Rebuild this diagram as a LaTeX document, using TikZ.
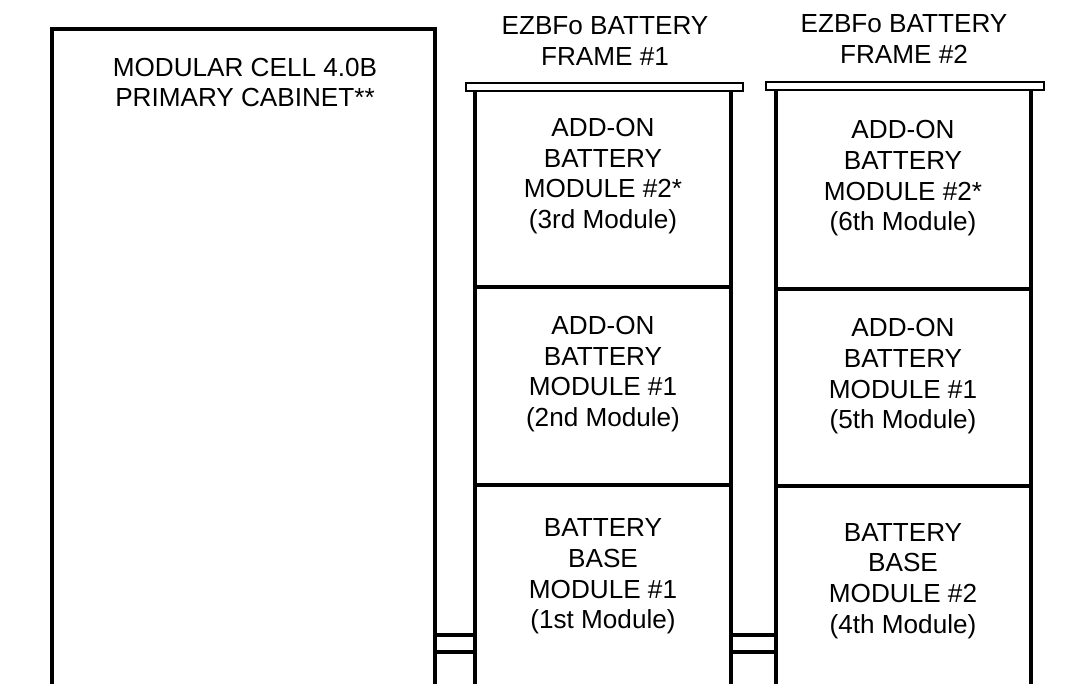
\documentclass[tikz,border=0pt]{standalone}
\usepackage{fontspec}
\setmainfont{Liberation Sans}
\usetikzlibrary{positioning}

\begin{document}
\begin{tikzpicture}[
          x=0.75pt, y=-0.75pt,
          font=\fontsize{19.6}{23}\selectfont,
          wall/.style={line width=2.4pt},
          capbar/.style={line width=2pt, fill=white},
          txt/.style={inner sep=0pt, align=center}
        ]
          \useasboundingbox (0,0) rectangle (1091,684);

          % primary cabinet
          \coordinate (cabBL) at (52,684);
          \coordinate (cabBR) at (435,684);
          \draw[wall] (cabBL) |- (244,29) -| (cabBR);
          \node[txt] (cab) at (245,82.5) {MODULAR CELL 4.0B\\PRIMARY CABINET**};

          % battery frame 1
          \node[txt] (fA) at (605,41) {EZBFo BATTERY\\FRAME \#1};
          \draw[capbar] (466,83) rectangle (743,91);
          \coordinate (aTL) at (475,91);
          \coordinate (aTR) at (731,91);
          \coordinate (aBL) at (475,684);
          \coordinate (aBR) at (731,684);
          \draw[wall] (aTL) -- (aBL);
          \draw[wall] (aTR) -- (aBR);
          \draw[wall] (475,287) -- (731,287);
          \draw[wall] (475,485) -- (731,485);
          \node[txt] (a3) at (603,176) {ADD-ON\\BATTERY\\MODULE \#2*\\(3rd Module)};
          \node[txt] (a2) at (603,374) {ADD-ON\\BATTERY\\MODULE \#1\\(2nd Module)};
          \node[txt] (a1) at (603,576.5) {BATTERY\\BASE\\MODULE \#1\\(1st Module)};

          % battery frame 2
          \node[txt] (fB) at (904,39) {EZBFo BATTERY\\FRAME \#2};
          \draw[capbar] (766,82) rectangle (1044,90);
          \coordinate (bTL) at (776,90);
          \coordinate (bTR) at (1031,90);
          \coordinate (bBL) at (776,684);
          \coordinate (bBR) at (1031,684);
          \draw[wall] (bTL) -- (bBL);
          \draw[wall] (bTR) -- (bBR);
          \draw[wall] (776,289) -- (1031,289);
          \draw[wall] (776,486) -- (1031,486);
          \node[txt] (b3) at (903,178.5) {ADD-ON\\BATTERY\\MODULE \#2*\\(6th Module)};
          \node[txt] (b2) at (903,376.5) {ADD-ON\\BATTERY\\MODULE \#1\\(5th Module)};
          \node[txt] (b1) at (903,581) {BATTERY\\BASE\\MODULE \#2\\(4th Module)};

          % links between cabinets
          \draw[wall] (435,635) -- (475,635);
          \draw[wall] (435,652) -- (475,652);
          \draw[wall] (731,635) -- (776,635);
          \draw[wall] (731,652) -- (776,652);
        \end{tikzpicture}
\end{document}
